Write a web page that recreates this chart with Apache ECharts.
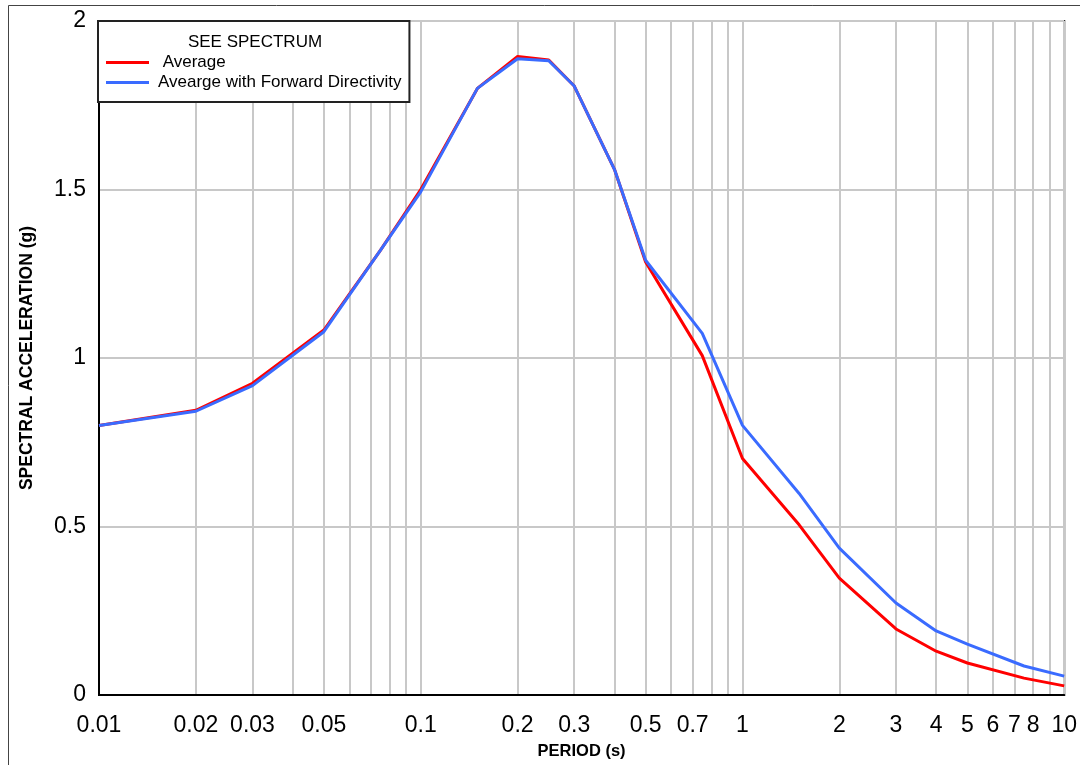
<!DOCTYPE html>
<html>
<head>
<meta charset="utf-8">
<script src="https://cdn.jsdelivr.net/npm/echarts@6/dist/echarts.min.js"></script>
<style>
html,body{margin:0;padding:0;background:#fff;}
#chart{width:1080px;height:765px;}
</style>
</head>
<body>
<div id="chart"></div>
<script>
// Periods (s)
const periods = [0.01, 0.02, 0.03, 0.05, 0.075, 0.1, 0.15, 0.2, 0.25, 0.3, 0.4, 0.5, 0.75, 1, 1.5, 2, 3, 4, 5, 7.5, 10];
// Spectral acceleration (g)
const average = [0.80, 0.845, 0.925, 1.083, 1.32, 1.50, 1.80, 1.895, 1.884, 1.807, 1.56, 1.285, 1.007, 0.702, 0.505, 0.347, 0.196, 0.130, 0.095, 0.050, 0.027];
const forward = [0.80, 0.842, 0.918, 1.078, 1.32, 1.493, 1.80, 1.888, 1.882, 1.807, 1.56, 1.29, 1.073, 0.80, 0.598, 0.436, 0.273, 0.190, 0.151, 0.086, 0.056];
// Grid lines and tick labels on the period axis
const xGridValues = [0.01, 0.02, 0.03, 0.04, 0.05, 0.06, 0.07, 0.08, 0.09, 0.1, 0.2, 0.3, 0.4, 0.5, 0.6, 0.7, 0.8, 0.9, 1, 2, 3, 4, 5, 6, 7, 8, 9, 10];
const xLabelValues = [0.01, 0.02, 0.03, 0.05, 0.1, 0.2, 0.3, 0.5, 0.7, 1, 2, 3, 4, 5, 6, 7, 8, 10];
const seriesNames = [' Average', 'Avearge with Forward Directivity'];
const legendTitle = 'SEE SPECTRUM';

const pair = (xs, ys) => xs.map((x, i) => [x, ys[i]]);
const FONT = '"Liberation Sans", Arial, sans-serif';

const chart = echarts.init(document.getElementById('chart'), null, {renderer: 'canvas'});
chart.setOption({
  animation: false,
  backgroundColor: '#ffffff',
  textStyle: {fontFamily: FONT},
  grid: {left: 99, right: 11, top: 21, bottom: 68, show: true, borderColor: '#000', borderWidth: 2, backgroundColor: 'transparent', containLabel: false},
  legend: {
    left: 98, top: 21, orient: 'vertical',
    backgroundColor: '#fff', borderColor: '#222', borderWidth: 2,
    padding: [33, 8, 11, 8], itemGap: 3,
    itemWidth: 43, itemHeight: 3, icon: 'rect', itemStyle: {borderWidth: 0},
    textStyle: {fontSize: 17, color: '#000', fontFamily: FONT, lineHeight: 17, padding: [0, 0, 0, 4]},
    data: seriesNames, z: 10
  },
  xAxis: {
    type: 'log', logBase: 10, min: 0.01, max: 10,
    name: 'PERIOD (s)', nameLocation: 'middle', nameGap: 48,
    nameTextStyle: {fontSize: 16.5, fontWeight: 'bold', color: '#000', fontFamily: FONT},
    axisLine: {show: true, lineStyle: {color: '#000', width: 2}},
    axisTick: {show: false, customValues: xGridValues},
    axisLabel: {customValues: xLabelValues, fontSize: 23, color: '#000', margin: 19, fontFamily: FONT,
      formatter: v => String(+(+v).toPrecision(6))},
    splitLine: {show: true, lineStyle: {color: '#c8c8c8', width: 2}},
    minorTick: {show: false}, minorSplitLine: {show: false}
  },
  yAxis: {
    type: 'value', min: 0, max: 2, interval: 0.5,
    name: 'SPECTRAL ACCELERATION (g)', nameLocation: 'middle', nameGap: 63,
    nameTextStyle: {fontSize: 17.5, fontWeight: 'bold', color: '#000', fontFamily: FONT},
    axisLine: {show: true, lineStyle: {color: '#000', width: 2}},
    axisTick: {show: false},
    axisLabel: {fontSize: 23, color: '#000', margin: 13, fontFamily: FONT},
    splitLine: {show: true, lineStyle: {color: '#c8c8c8', width: 2}}
  },
  series: [
    {name: seriesNames[0], type: 'line', data: pair(periods, average), color: '#ff0000',
      showSymbol: false, symbol: 'none', lineStyle: {width: 3, color: '#ff0000'}, z: 3},
    {name: seriesNames[1], type: 'line', data: pair(periods, forward), color: '#3a6bff',
      showSymbol: false, symbol: 'none', lineStyle: {width: 3, color: '#3a6bff'}, z: 4}
  ],
  graphic: [
    {type: 'text', x: 255, y: 42, z: 100,
      style: {text: legendTitle, fontSize: 17, fontFamily: FONT, fill: '#000', textAlign: 'center', textVerticalAlign: 'middle'}},
    {type: 'rect', x: 0, y: 0, z: 100, silent: true,
      shape: {x: 8.5, y: 5.5, width: 1200, height: 900},
      style: {fill: 'none', stroke: '#444', lineWidth: 1}}
  ]
});
</script>
</body>
</html>
